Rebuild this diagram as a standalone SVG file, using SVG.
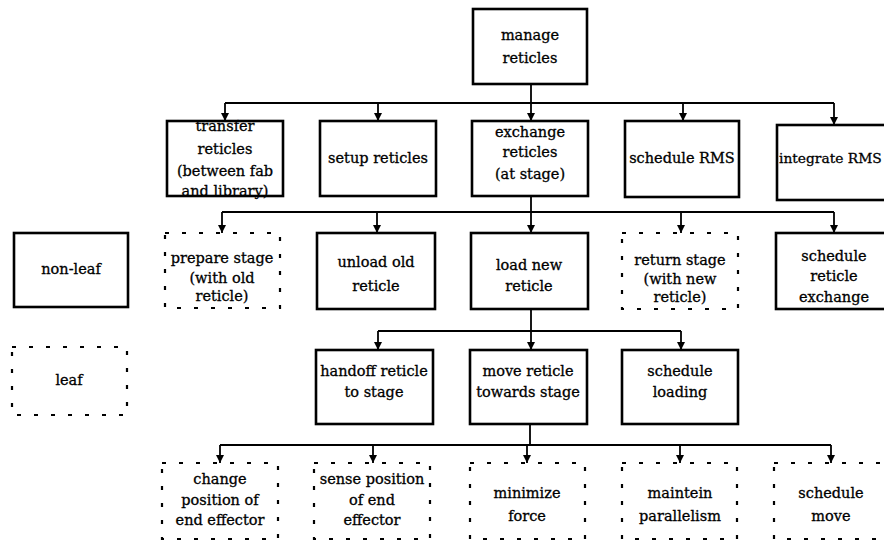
<svg xmlns="http://www.w3.org/2000/svg" width="884" height="541" viewBox="0 0 884 541">
  <defs>
    <!-- small filled arrowhead at the lower end of each drop line -->
    <marker id="arr" viewBox="0 0 8 8" refX="8" refY="4" markerWidth="8" markerHeight="8" markerUnits="userSpaceOnUse" orient="auto">
      <path d="M0,0 L8,4 L0,8 Z" fill="#000"/>
    </marker>
    <style>
      .nl { fill: #fff; stroke: #000; stroke-width: 2.6; }
      .lf { fill: #fff; stroke: #000; stroke-width: 2.2; stroke-dasharray: 4 13; }
      .wire { fill: none; stroke: #000; stroke-width: 1.8; }
      .drop { fill: none; stroke: #000; stroke-width: 1.8; marker-end: url(#arr); }
      text { font-family: "DejaVu Serif", "Liberation Serif", serif; font-size: 14.5px; fill: #000; stroke: #000; stroke-width: 0.3; text-anchor: middle; }
    </style>
  </defs>
  <rect width="884" height="541" fill="#fff"/>

  <!-- connectors -->
  <g id="connectors">
    <!-- manage reticles -> row 2 -->
    <path class="wire" d="M531,84 V103 M225,103 H834"/>
    <path class="drop" d="M225,103 V121"/>
    <path class="drop" d="M378,103 V121"/>
    <path class="drop" d="M531,103 V121"/>
    <path class="drop" d="M683,103 V121"/>
    <path class="drop" d="M834,103 V125"/>
    <!-- exchange reticles -> row 3 -->
    <path class="wire" d="M531,196 V212 M222,212 H834"/>
    <path class="drop" d="M222,212 V233"/>
    <path class="drop" d="M377,212 V233"/>
    <path class="drop" d="M531,212 V233"/>
    <path class="drop" d="M681,212 V233"/>
    <path class="drop" d="M834,212 V233"/>
    <!-- load new reticle -> row 4 -->
    <path class="wire" d="M531,309 V331 M378,331 H681"/>
    <path class="drop" d="M378,331 V350"/>
    <path class="drop" d="M531,331 V350"/>
    <path class="drop" d="M681,331 V350"/>
    <!-- move reticle towards stage -> row 5 -->
    <path class="wire" d="M530,424 V445 M220,445 H831"/>
    <path class="drop" d="M220,445 V463"/>
    <path class="drop" d="M373,445 V463"/>
    <path class="drop" d="M527,445 V463"/>
    <path class="drop" d="M680,445 V463"/>
    <path class="drop" d="M831,445 V463"/>
  </g>

  <!-- row 1 -->
  <g id="manage-reticles">
    <rect class="nl" x="473" y="9" width="114" height="75"/>
    <text x="530" y="40">manage</text>
    <text x="530" y="63">reticles</text>
  </g>

  <!-- row 2 -->
  <g id="transfer-reticles">
    <rect class="nl" x="167" y="121" width="116" height="75"/>
    <text x="225" y="131">transfer</text>
    <text x="225" y="154">reticles</text>
    <text x="225" y="176">(between fab</text>
    <text x="225" y="196">and library)</text>
  </g>
  <g id="setup-reticles">
    <rect class="nl" x="320" y="121" width="116" height="75"/>
    <text x="378" y="163">setup reticles</text>
  </g>
  <g id="exchange-reticles">
    <rect class="nl" x="472" y="121" width="116" height="75"/>
    <text x="530" y="137">exchange</text>
    <text x="530" y="157">reticles</text>
    <text x="530" y="179">(at stage)</text>
  </g>
  <g id="schedule-rms">
    <rect class="nl" x="625" y="121" width="114" height="76"/>
    <text x="682" y="163">schedule RMS</text>
  </g>
  <g id="integrate-rms">
    <rect class="nl" x="777" y="125" width="130" height="75"/>
    <text x="779" y="163" style="text-anchor:start; font-size:13.8px">integrate RMS</text>
  </g>

  <!-- row 3 -->
  <g id="prepare-stage">
    <rect class="lf" x="165" y="233" width="115" height="75"/>
    <text x="222" y="263">prepare stage</text>
    <text x="222" y="283">(with old</text>
    <text x="222" y="301">reticle)</text>
  </g>
  <g id="unload-old-reticle">
    <rect class="nl" x="317" y="233" width="118" height="76"/>
    <text x="376" y="267">unload old</text>
    <text x="376" y="291">reticle</text>
  </g>
  <g id="load-new-reticle">
    <rect class="nl" x="471" y="233" width="117" height="76"/>
    <text x="529" y="270">load new</text>
    <text x="529" y="291">reticle</text>
  </g>
  <g id="return-stage">
    <rect class="lf" x="622" y="233" width="116" height="76"/>
    <text x="680" y="265">return stage</text>
    <text x="680" y="284">(with new</text>
    <text x="680" y="302">reticle)</text>
  </g>
  <g id="schedule-reticle-exchange">
    <rect class="nl" x="776" y="233" width="130" height="76"/>
    <text x="834" y="261">schedule</text>
    <text x="834" y="281">reticle</text>
    <text x="834" y="302">exchange</text>
  </g>

  <!-- legend -->
  <g id="legend-non-leaf">
    <rect class="nl" x="14" y="233" width="114" height="74"/>
    <text x="71" y="274">non-leaf</text>
  </g>
  <g id="legend-leaf">
    <rect class="lf" x="12" y="347" width="115" height="68"/>
    <text x="69" y="385">leaf</text>
  </g>

  <!-- row 4 -->
  <g id="handoff-reticle">
    <rect class="nl" x="316" y="350" width="117" height="74"/>
    <text x="374" y="376">handoff reticle</text>
    <text x="374" y="397">to stage</text>
  </g>
  <g id="move-reticle">
    <rect class="nl" x="470" y="350" width="117" height="74"/>
    <text x="528" y="376">move reticle</text>
    <text x="528" y="397">towards stage</text>
  </g>
  <g id="schedule-loading">
    <rect class="nl" x="622" y="350" width="116" height="74"/>
    <text x="680" y="376">schedule</text>
    <text x="680" y="397">loading</text>
  </g>

  <!-- row 5 -->
  <g id="change-position">
    <rect class="lf" x="162" y="463" width="116" height="76"/>
    <text x="220" y="484">change</text>
    <text x="220" y="505">position of</text>
    <text x="220" y="525">end effector</text>
  </g>
  <g id="sense-position">
    <rect class="lf" x="314" y="463" width="116" height="76"/>
    <text x="372" y="484">sense position</text>
    <text x="372" y="505">of end</text>
    <text x="372" y="525">effector</text>
  </g>
  <g id="minimize-force">
    <rect class="lf" x="470" y="463" width="115" height="76"/>
    <text x="527" y="498">minimize</text>
    <text x="527" y="521">force</text>
  </g>
  <g id="maintain-parallelism">
    <rect class="lf" x="622" y="463" width="115" height="76"/>
    <text x="680" y="498">maintein</text>
    <text x="680" y="521">parallelism</text>
  </g>
  <g id="schedule-move">
    <rect class="lf" x="774" y="463" width="115" height="76"/>
    <text x="831" y="498">schedule</text>
    <text x="831" y="521">move</text>
  </g>
</svg>
